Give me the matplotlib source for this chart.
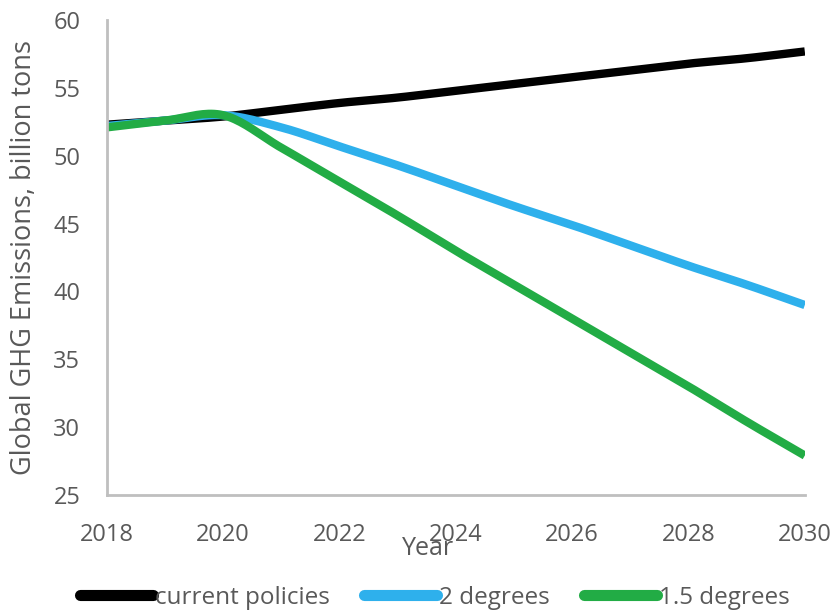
import numpy as np
import matplotlib
matplotlib.use("Agg")
import matplotlib.pyplot as plt

# data (billion tons CO2e)
years = [2018, 2019, 2020, 2021, 2022, 2023, 2024, 2025, 2026, 2027, 2028, 2029, 2030]
current_policies = [52.3, 52.6, 52.9, 53.4, 53.9, 54.3, 54.8, 55.3, 55.8, 56.3, 56.8, 57.2, 57.7]
two_degrees = [52.2, 52.6, 53.0, 52.1, 50.7, 49.3, 47.8, 46.3, 44.9, 43.4, 41.9, 40.5, 39.0]
one_five_degrees = [52.1, 52.6, 53.0, 50.6, 48.1, 45.6, 43.0, 40.5, 38.0, 35.5, 33.0, 30.4, 27.9]

series_names = ["current policies", "2 degrees", "1.5 degrees"]
series_colors = ["#000000", "#2eb0ec", "#22ac45"]
text_gray = '#595959'

plt.rcParams['font.family'] = ['Open Sans', 'DejaVu Sans']


def smooth(x, y, n=20):
    """Catmull-Rom curve through the points, like Excel's smoothed line."""
    x = np.asarray(x, float)
    y = np.asarray(y, float)
    px = np.concatenate([[2 * x[0] - x[1]], x, [2 * x[-1] - x[-2]]])
    py = np.concatenate([[2 * y[0] - y[1]], y, [2 * y[-1] - y[-2]]])
    xs, ys = [], []
    t = np.linspace(0, 1, n, endpoint=False)
    for i in range(1, len(px) - 2):
        for arr, out in ((px, xs), (py, ys)):
            p0, p1, p2, p3 = arr[i - 1], arr[i], arr[i + 1], arr[i + 2]
            out.extend(0.5 * (2 * p1 + (-p0 + p2) * t
                              + (2 * p0 - 5 * p1 + 4 * p2 - p3) * t ** 2
                              + (-p0 + 3 * p1 - 3 * p2 + p3) * t ** 3))
    xs.append(x[-1])
    ys.append(y[-1])
    return np.array(xs), np.array(ys)


fig = plt.figure(figsize=(8.34, 6.14), dpi=100)
ax = fig.add_axes([0.128, 0.194, 0.837, 0.773])

for vals, name, col in zip([current_policies, two_degrees, one_five_degrees],
                           series_names, series_colors):
    sx, sy = smooth(years, vals)
    ax.plot(sx, sy, color=col, lw=6, label=name, solid_capstyle='butt',
            solid_joinstyle='round')

ax.set_xlim(2018, 2030)
ax.set_ylim(25, 60)
ax.set_xticks(range(2018, 2031, 2))
ax.set_yticks(range(25, 61, 5))
ax.tick_params(length=0, labelsize=17, colors=text_gray)
ax.tick_params(axis='x', pad=20)
ax.tick_params(axis='y', pad=19)

for side in ['top', 'right']:
    ax.spines[side].set_visible(False)
for side in ['left', 'bottom']:
    ax.spines[side].set_color('#bfbfbf')
    ax.spines[side].set_linewidth(2)

ax.set_xlabel('Year', fontsize=18, color=text_gray, va='center')
ax.xaxis.set_label_coords(0.46, -0.112)
ax.set_ylabel('Global GHG Emissions, billion tons', fontsize=19.5, color=text_gray, va='center')
ax.yaxis.set_label_coords(-0.119, 0.5)

leg = ax.legend(loc='center', bbox_to_anchor=(0.47, -0.217), ncol=3, frameon=False,
                fontsize=17.5, labelcolor=text_gray, handlelength=3.0, handletextpad=0.1,
                columnspacing=1.4)
for line in leg.get_lines():
    line.set_linewidth(8)
    line.set_solid_capstyle('round')

fig.savefig('out.png', dpi=100)
